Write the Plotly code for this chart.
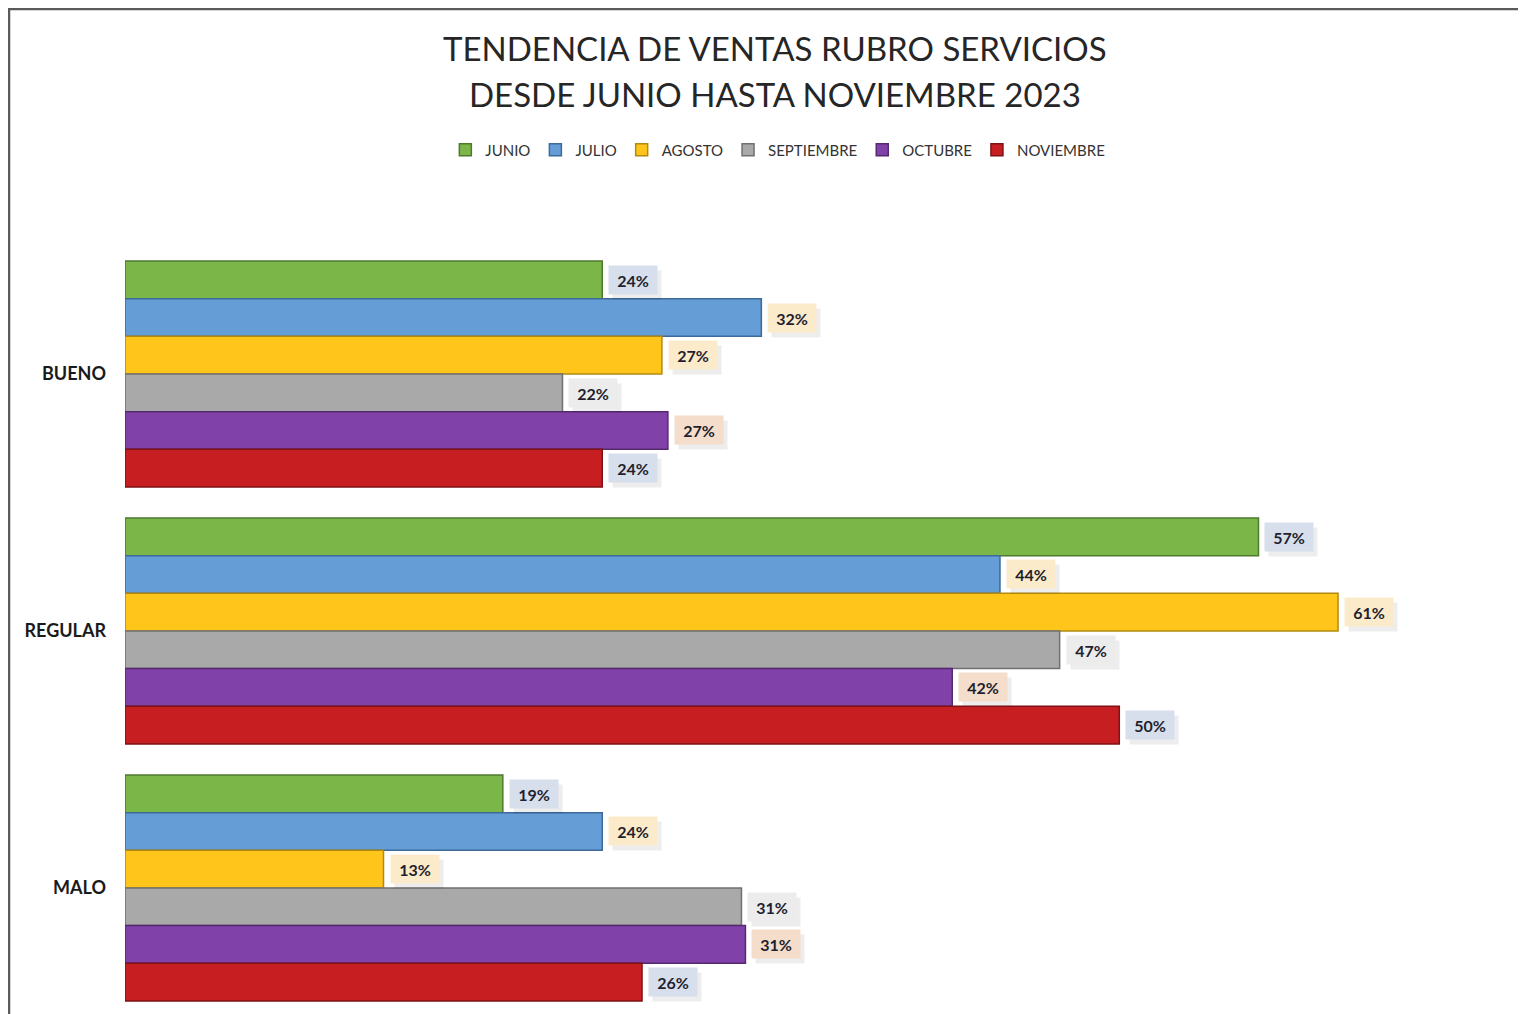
import plotly.graph_objects as go

categorias = ["BUENO", "REGULAR", "MALO"]
meses = ["JUNIO", "JULIO", "AGOSTO", "SEPTIEMBRE", "OCTUBRE", "NOVIEMBRE"]

junio = [24, 57, 19]
julio = [32, 44, 24]
agosto = [27, 61, 13]
septiembre = [22, 47, 31]
octubre = [27.3, 41.6, 31.2]
noviembre = [24, 50, 26]

series = [junio, julio, agosto, septiembre, octubre, noviembre]

titulo1 = "TENDENCIA DE VENTAS RUBRO SERVICIOS"
titulo2 = "DESDE JUNIO HASTA NOVIEMBRE 2023"

colores = ["#7AB648", "#659DD6", "#FFC51A", "#A9A9A9", "#8042A8", "#C71E22"]
bordes = ["#4E7A2C", "#3C6A9A", "#B28A10", "#707070", "#55296F", "#7E1216"]
cajas = ["#D8DFEC", "#FBEBCB", "#FBEBCB", "#ECECEC", "#F4DDCB", "#D8DFEC"]

fuente = "Lato"
bargap = 0.121
paso = 257  # px per category on the y axis

fig = go.Figure()
for nombre, vals, c, b in zip(meses, series, colores, bordes):
    fig.add_trace(go.Bar(
        y=categorias, x=vals, name=nombre, orientation="h",
        marker=dict(color=c, line=dict(color=b, width=1.5)),
        hoverinfo="x+name",
    ))

# etiquetas con caja y sombra
slot = paso * (1 - bargap) / len(meses)
for i, (vals, caja) in enumerate(zip(series, cajas)):
    dy = (len(meses) / 2 - 0.5 - i) * slot
    for cat, v in zip(categorias, vals):
        # sombra
        fig.add_annotation(
            x=v, y=cat, xref="x", yref="y", text=" ",
            showarrow=False, xanchor="left", xshift=10, yshift=dy - 5,
            width=40, height=20, bgcolor="rgba(0,0,0,0.07)", borderpad=4,
            font=dict(family=fuente, size=16),
        )
        fig.add_annotation(
            x=v, y=cat, xref="x", yref="y", text="<b>%d%%</b>" % round(v),
            showarrow=False, xanchor="left", xshift=6, yshift=dy,
            width=40, height=20, bgcolor=caja, borderpad=4,
            font=dict(family=fuente, size=16, color="#1F1F2E"),
        )

# titulo en dos lineas
for txt, yy in [(titulo1, 1.2658), (titulo2, 1.2053)]:
    fig.add_annotation(
        x=0.467, y=yy, xref="paper", yref="paper", text=txt, showarrow=False,
        xanchor="center", yanchor="middle",
        font=dict(family=fuente, size=33, color="#262626"),
    )

fig.update_layout(
    width=1518, height=1006,
    paper_bgcolor="white", plot_bgcolor="white",
    margin=dict(l=117, r=9, t=242, b=4),
    barmode="group", bargap=bargap, bargroupgap=0,
    legend=dict(
        orientation="h", x=0.469, xanchor="center", y=1.1316, yanchor="middle",
        font=dict(family=fuente, size=15, color="#333333"),
        itemwidth=30, tracegroupgap=0, traceorder="normal",
    ),
    showlegend=True,
    xaxis=dict(range=[0, 70], visible=False, showgrid=False, zeroline=False),
    yaxis=dict(
        range=[2.475, -0.4825], showgrid=False, zeroline=False,
        tickfont=dict(family=fuente, size=18, color="#1A1A1A", weight="bold"),
        ticklabelstandoff=18, showline=False, ticks="",
    ),
    shapes=[dict(
        type="rect", xref="paper", yref="paper",
        xsizemode="pixel", ysizemode="pixel", xanchor=0, yanchor=1,
        x0=-116, x1=1600, y0=-1000, y1=241,
        line=dict(color="#5A5A5A", width=2.5), fillcolor="rgba(0,0,0,0)",
        layer="below",
    )],
)

fig.write_html("out.html")
